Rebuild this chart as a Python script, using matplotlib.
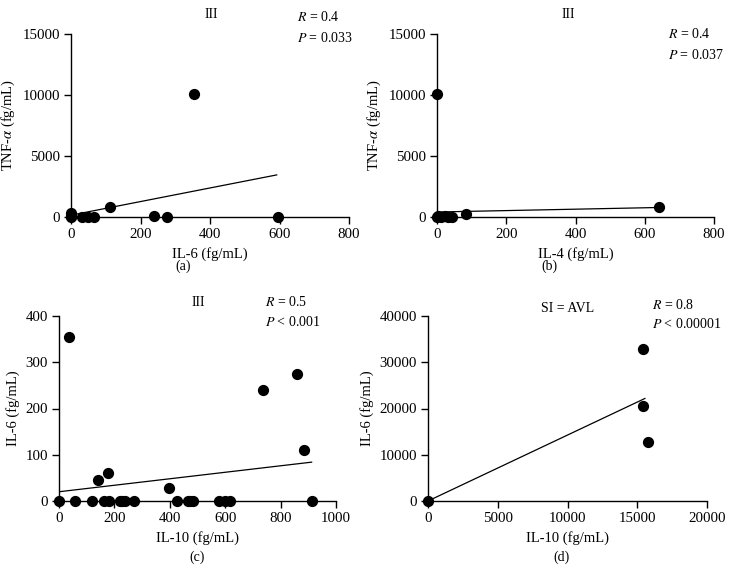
import matplotlib
matplotlib.use("Agg")
import matplotlib.pyplot as plt
import numpy as np

plt.rcParams['font.family'] = ['Liberation Serif', 'DejaVu Serif']
plt.rcParams['font.size'] = 10
plt.rcParams['mathtext.fontset'] = 'stix'

# panel (a): IL-6 vs TNF-alpha
a_x = [0, 0, 0, 32, 48, 65, 113, 240, 276, 355, 597]
a_y = [0, 120, 300, 0, 0, 0, 790, 90, 40, 10100, 0]
a_line_x = [0, 592]
a_line_y = [150, 3450]

# panel (b): IL-4 vs TNF-alpha
b_x = [0, 0, 3, 12, 22, 32, 44, 85, 641]
b_y = [10100, 0, 80, 0, 60, 0, 0, 240, 790]
b_line_x = [0, 641]
b_line_y = [410, 780]

# panel (c): IL-10 vs IL-6
c_x = [0, 36, 58, 118, 142, 161, 177, 180, 219, 229, 240, 271, 396, 427,
       466, 472, 484, 578, 599, 617, 735, 861, 886, 912]
c_y = [0, 354, 0, 0, 46, 0, 61, 0, 0, 0, 0, 0, 29, 0,
       0, 0, 0, 0, 0, 0, 240, 274, 110, 0]
c_line_x = [0, 912]
c_line_y = [20, 84]

# panel (d): IL-10 vs IL-6, SI = AVL
d_x = [0, 15430, 15430, 15790]
d_y = [0, 32850, 20580, 12850]
d_line_x = [0, 15550]
d_line_y = [0, 22170]

W, H = 732, 576
fig = plt.figure(figsize=(W / 100, H / 100), dpi=100)


def px_axes(l, r, t, b):
    return fig.add_axes([l / W, 1 - b / H, (r - l) / W, (b - t) / H])


def ftext(x, y, s, **kw):
    fig.text(x / W, 1 - y / H, s, va='center', **kw)


panels = [
    (px_axes(71, 349, 34, 217), a_x, a_y, a_line_x, a_line_y, 800, 200, 15000, 5000,
     'IL-6 (fg/mL)', r'TNF-$\alpha$ (fg/mL)'),
    (px_axes(437, 714, 34, 217), b_x, b_y, b_line_x, b_line_y, 800, 200, 15000, 5000,
     'IL-4 (fg/mL)', r'TNF-$\alpha$ (fg/mL)'),
    (px_axes(59, 336, 316, 501), c_x, c_y, c_line_x, c_line_y, 1000, 200, 400, 100,
     'IL-10 (fg/mL)', 'IL-6 (fg/mL)'),
    (px_axes(428, 707, 316, 501), d_x, d_y, d_line_x, d_line_y, 20000, 5000, 40000, 10000,
     'IL-10 (fg/mL)', 'IL-6 (fg/mL)'),
]

for ax, x, y, lx, ly, xmax, xstep, ymax, ystep, xlab, ylab in panels:
    ax.plot(lx, ly, color='black', lw=0.9, zorder=2)
    ax.scatter(x, y, s=50, color='black', zorder=3, clip_on=False)
    ax.set_xlim(0, xmax)
    ax.set_ylim(0, ymax)
    ax.set_xticks(np.arange(0, xmax + 1, xstep))
    ax.set_yticks(np.arange(0, ymax + 1, ystep))
    for s in ['top', 'right']:
        ax.spines[s].set_visible(False)
    for s in ['left', 'bottom']:
        ax.spines[s].set_linewidth(1.0)
    ax.tick_params(direction='out', length=5, width=1, pad=3, labelsize=10.7)
    ax.set_xlabel(xlab, fontsize=10.5, labelpad=4)
    ax.set_ylabel(ylab, fontsize=10.5, labelpad=4)
    ax.patch.set_visible(False)

ftext(211, 14, 'III', ha='center')
ftext(297, 17, r'$R$ = 0.4', ha='left')
ftext(297, 38, r'$P$ = 0.033', ha='left')
ftext(183, 266, '(a)', ha='center')

ftext(568, 14, 'III', ha='center')
ftext(668, 34, r'$R$ = 0.4', ha='left')
ftext(668, 55, r'$P$ = 0.037', ha='left')
ftext(549, 266, '(b)', ha='center')

ftext(198, 302, 'III', ha='center')
ftext(265, 302, r'$R$ = 0.5', ha='left')
ftext(265, 322, r'$P$ < 0.001', ha='left')
ftext(197, 557, '(c)', ha='center')

ftext(568, 309, 'SI = AVL', ha='center')
ftext(652, 305, r'$R$ = 0.8', ha='left')
ftext(652, 324, r'$P$ < 0.00001', ha='left')
ftext(561, 557, '(d)', ha='center')

fig.savefig('out.png', dpi=100)
